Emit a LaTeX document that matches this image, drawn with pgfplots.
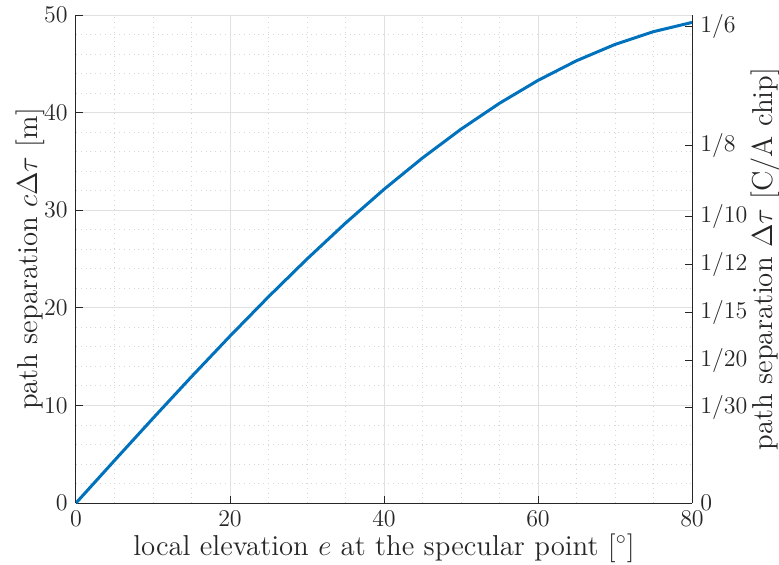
\documentclass[border=0pt]{standalone}
\usepackage{pgfplots}
\pgfplotsset{compat=1.18}
\definecolor{mblue}{rgb}{0,0.447,0.741}
\definecolor{axgray}{rgb}{0.15,0.15,0.15}
\definecolor{gridc}{rgb}{0.88,0.88,0.88}
\definecolor{mgridc}{rgb}{0.84,0.84,0.84}
\newcommand{\lblfont}{\fontsize{14.4}{17}\selectfont}
\begin{document}
\fontsize{12}{14}\selectfont
\begin{tikzpicture}
\pgfplotsset{
 common/.style={width=308pt,height=244pt,scale only axis,
  xmin=0,xmax=80,ymin=0,ymax=50,
  tick align=inside, major tick length=3.5pt, minor tick length=0pt,
  every tick/.style={axgray,line width=0.5pt},
  axis line style={axgray,line width=0.5pt,-},
  tick label style={color=axgray,font=\fontsize{12}{14}\selectfont}}
}
\begin{axis}[common, axis x line*=bottom, axis y line*=left,
  xtick={0,20,...,80}, ytick={0,10,...,50},
  minor x tick num=3, minor y tick num=4,
  grid=both, major grid style={gridc,line width=0.5pt},
  minor grid style={mgridc,dotted,line width=0.4pt},
  xlabel={\lblfont local elevation $e$ at the specular point [$^\circ$]},
  ylabel={\lblfont path separation $c\Delta\tau$ [m]},
  every axis x label/.style={at={(axis description cs:0.5,-0.092)},anchor=center,color=axgray},
  every axis y label/.style={at={(axis description cs:-0.0747,0.5)},rotate=90,anchor=center,color=axgray}]
\addplot[mblue,line width=1.5pt] coordinates {
(0,0) (5,4.358) (10,8.682) (15,12.941) (20,17.101) (25,21.131) (30,25.0)
(35,28.679) (40,32.139) (45,35.355) (50,38.302) (55,40.958) (60,43.301)
(65,45.315) (70,46.985) (75,48.296) (80,49.240)};
\end{axis}
\begin{axis}[common, axis x line=none, axis y line*=right,
  ytick={0,9.768,14.653,19.537,24.421,29.305,36.631,48.842},
  yticklabels={$0$,$1/30$,$1/20$,$1/15$,$1/12$,$1/10$,$1/8$,$1/6$},
  ylabel={\lblfont path separation $\Delta\tau$ [C/A chip]},
  every axis y label/.style={at={(axis description cs:1.1185,0.5)},rotate=90,anchor=center,color=axgray}]
\end{axis}
\pgfresetboundingbox
\path (-38pt,-30.5pt) rectangle (351.5pt,251.5pt);
\end{tikzpicture}
\end{document}
